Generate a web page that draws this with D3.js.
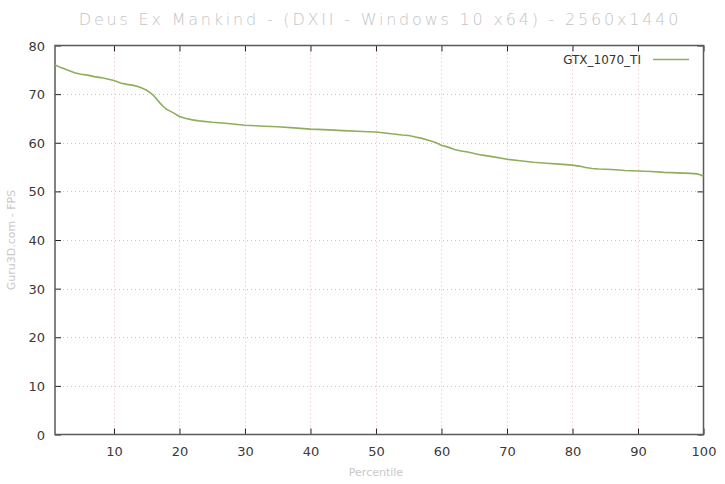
<!DOCTYPE html>
<html><head><meta charset="utf-8">
<script src="https://cdn.jsdelivr.net/npm/d3@7"></script>
<style>body{margin:0;background:#fff}svg{display:block}</style>
</head><body>
<script>
const title = "Deus Ex Mankind - (DXII - Windows 10 x64) - 2560x1440";
const seriesName = "GTX_1070_TI";
const percentiles = [1,2,3,4,5,6,7,8,9,10,11,12,13,14,14.5,15,15.5,16,16.5,17,17.5,18,19,20,21,22,23,25,27,30,33,35,38,40,42,45,48,50,52,54,55,56,57,58,59,60,61,62,63,64,65,66,68,70,72,74,76,78,80,81,82,83,84,86,88,90,92,94,96,98,99,99.5,100];
const fps = [76.0,75.4,74.9,74.4,74.1,73.9,73.6,73.4,73.1,72.8,72.3,72.0,71.8,71.4,71.1,70.8,70.3,69.8,69.0,68.2,67.5,66.9,66.2,65.4,65.0,64.7,64.5,64.2,64.0,63.6,63.4,63.3,63.0,62.8,62.7,62.5,62.3,62.2,61.9,61.6,61.5,61.2,60.9,60.5,60.1,59.5,59.1,58.6,58.3,58.1,57.8,57.5,57.1,56.6,56.3,56.0,55.8,55.6,55.4,55.2,54.9,54.7,54.6,54.5,54.3,54.2,54.1,53.9,53.8,53.7,53.6,53.4,53.1];
const xTicks = [10,20,30,40,50,60,70,80,90,100];
const yTicks = [0,10,20,30,40,50,60,70,80];

const W = 725, H = 484;
const m = {left:55, right:21.5, top:45.5, bottom:49.5};
const svg = d3.select("body").append("svg").attr("width",W).attr("height",H);
const x = d3.scaleLinear().domain([1,100]).range([m.left, W-m.right]);
const y = d3.scaleLinear().domain([0,80]).range([H-m.bottom, m.top]);
const x0 = x.range()[0], x1 = x.range()[1], y0 = y.range()[0], y1 = y.range()[1];

// grid
const grid = svg.append("g").attr("stroke","#eab4bf").attr("stroke-width",1).attr("stroke-dasharray","1,3");
grid.selectAll("line.v").data(xTicks.filter(d=>d<100)).join("line")
  .attr("x1",d=>Math.round(x(d))+0.5).attr("x2",d=>Math.round(x(d))+0.5).attr("y1",y1).attr("y2",y0);
grid.selectAll("line.h").data(yTicks.filter(d=>d>0&&d<80)).join("line")
  .attr("y1",d=>Math.round(y(d))+0.5).attr("y2",d=>Math.round(y(d))+0.5).attr("x1",x0).attr("x2",x1);

// axes (ticks inside, mirrored)
const fontF = "Tahoma, 'DejaVu Sans', Verdana, sans-serif";
const axB = svg.append("g").attr("transform",`translate(0,${y0})`)
  .call(d3.axisBottom(x).tickValues(xTicks).tickSizeInner(-6).tickSizeOuter(0).tickPadding(12));
const axT = svg.append("g").attr("transform",`translate(0,${y1})`)
  .call(d3.axisTop(x).tickValues(xTicks).tickSizeInner(-6).tickSizeOuter(0).tickFormat(""));
const axL = svg.append("g").attr("transform",`translate(${x0},0)`)
  .call(d3.axisLeft(y).tickValues(yTicks).tickSizeInner(-6).tickSizeOuter(0).tickPadding(10));
const axR = svg.append("g").attr("transform",`translate(${x1},0)`)
  .call(d3.axisRight(y).tickValues(yTicks).tickSizeInner(-6).tickSizeOuter(0).tickFormat(""));
[axB,axT,axL,axR].forEach(a=>{
  a.select(".domain").remove();
  a.selectAll("line").attr("stroke","#222");
  a.selectAll("text").attr("fill","#3a3a3a").style("font-family",fontF).style("font-size","13px");
});
axL.selectAll("text").attr("dy","0.35em");

// frame
svg.append("rect").attr("x",x0).attr("y",y1).attr("width",x1-x0).attr("height",y0-y1)
  .attr("fill","none").attr("stroke","#5a5a5a").attr("stroke-width",1.5);

// line
const line = d3.line().x((d,i)=>x(percentiles[i])).y(d=>y(d));
svg.append("path").datum(fps).attr("d",line).attr("fill","none")
  .attr("stroke","#8fae5c").attr("stroke-width",1.6);

// legend
svg.append("text").attr("x",641).attr("y",64).attr("text-anchor","end")
  .style("font-family",fontF).style("font-size","12px").attr("fill","#333").text(seriesName);
svg.append("line").attr("x1",653).attr("x2",689).attr("y1",59.5).attr("y2",59.5)
  .attr("stroke","#8fae5c").attr("stroke-width",1.5);

// title
svg.append("text").attr("x",380).attr("y",25).attr("text-anchor","middle")
  .style("font-family","'DejaVu Sans', sans-serif").style("font-size","16px").style("font-weight","300")
  .style("letter-spacing","2.8px").attr("fill","#c4c4c4").text(title);

// axis labels
svg.append("text").attr("x",376).attr("y",476).attr("text-anchor","middle")
  .style("font-family",fontF).style("font-size","11px").attr("fill","#c8c8c8").text("Percentile");
svg.append("text").attr("transform","translate(15,240) rotate(-90)").attr("text-anchor","middle")
  .style("font-family",fontF).style("font-size","11px").attr("fill","#c8c8c8").text("Guru3D.com - FPS");
</script>
</body></html>
